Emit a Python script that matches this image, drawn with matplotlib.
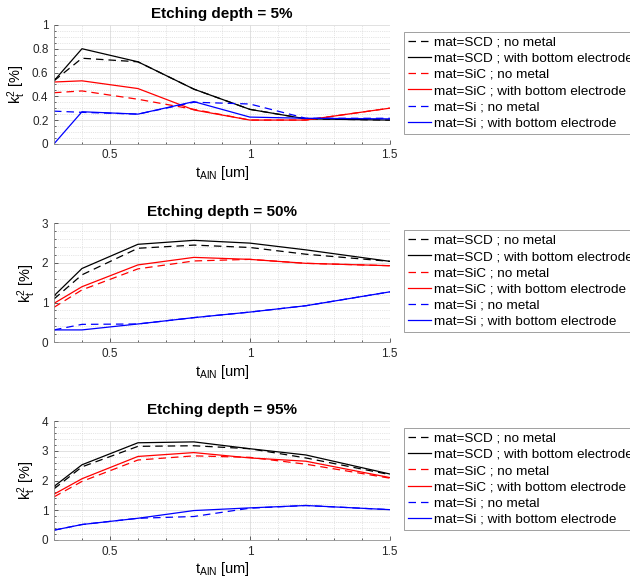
import numpy as np
import matplotlib
matplotlib.use("Agg")
import matplotlib.pyplot as plt
from matplotlib.ticker import MultipleLocator, FuncFormatter

plt.rcParams['font.family'] = ['Liberation Sans', 'DejaVu Sans']
plt.rcParams['mathtext.fontset'] = 'custom'
plt.rcParams['mathtext.rm'] = 'Liberation Sans'

# thickness of AlN [um]
t_aln = [0.3, 0.4, 0.6, 0.8, 1.0, 1.2, 1.5]

depths = ["5%", "50%", "95%"]

# k_t^2 [%] per etching depth: (no metal, with bottom electrode)
scd_nometal = [[0.53, 0.72, 0.69, 0.46, 0.29, 0.21, 0.20],
               [1.09, 1.70, 2.37, 2.45, 2.39, 2.22, 2.04],
               [1.72, 2.46, 3.15, 3.17, 3.07, 2.76, 2.20]]
scd_bottom = [[0.53, 0.80, 0.69, 0.46, 0.29, 0.21, 0.20],
              [1.17, 1.86, 2.47, 2.57, 2.50, 2.33, 2.04],
              [1.80, 2.53, 3.27, 3.30, 3.07, 2.86, 2.22]]
sic_nometal = [[0.43, 0.445, 0.375, 0.29, 0.20, 0.20, 0.30],
               [0.88, 1.32, 1.85, 2.05, 2.09, 1.99, 1.93],
               [1.45, 1.97, 2.69, 2.83, 2.78, 2.55, 2.08]]
sic_bottom = [[0.52, 0.53, 0.465, 0.285, 0.20, 0.20, 0.30],
              [0.98, 1.40, 1.95, 2.14, 2.09, 1.99, 1.93],
              [1.54, 2.06, 2.81, 2.94, 2.76, 2.65, 2.10]]
si_nometal = [[0.275, 0.265, 0.25, 0.35, 0.335, 0.215, 0.215],
              [0.31, 0.45, 0.46, 0.62, 0.76, 0.92, 1.27],
              [0.33, 0.52, 0.73, 0.79, 1.07, 1.16, 1.02]]
si_bottom = [[0.0, 0.27, 0.25, 0.355, 0.225, 0.215, 0.21],
             [0.31, 0.31, 0.46, 0.62, 0.76, 0.92, 1.27],
             [0.33, 0.52, 0.73, 0.99, 1.08, 1.16, 1.02]]

ylims = [1, 3, 4]
ymajor = [0.2, 1, 1]
yminor = [0.05, 0.2, 0.2]

series = [("SCD", "k", scd_nometal, scd_bottom),
          ("SiC", "r", sic_nometal, sic_bottom),
          ("Si", "b", si_nometal, si_bottom)]

fig = plt.figure(figsize=(6.3, 5.8), dpi=100)
bottoms = [0.752, 0.410, 0.069]
fmt = FuncFormatter(lambda v, p: "%g" % v)

for i in range(3):
    ax = fig.add_axes([0.0857, bottoms[i], 0.533, 0.205])
    for name, c, nm, be in series:
        ax.plot(t_aln, nm[i], '--', color=c, lw=0.9, dashes=(6, 4),
                label="mat=%s ; no metal" % name)
        ax.plot(t_aln, be[i], '-', color=c, lw=0.9,
                label="mat=%s ; with bottom electrode" % name)
    ax.set_xlim(0.3, 1.5)
    ax.set_ylim(0, ylims[i])
    ax.xaxis.set_major_locator(MultipleLocator(0.5))
    ax.xaxis.set_minor_locator(MultipleLocator(0.1))
    ax.yaxis.set_major_locator(MultipleLocator(ymajor[i]))
    ax.yaxis.set_minor_locator(MultipleLocator(yminor[i]))
    ax.xaxis.set_major_formatter(fmt)
    ax.yaxis.set_major_formatter(fmt)
    ax.grid(True, which='major', color='#dcdcdc', lw=0.6)
    ax.grid(True, which='minor', color='#cfcfcf', lw=0.5, ls=':')
    ax.set_axisbelow(True)
    ax.tick_params(which='both', direction='in', labelsize=8.5, colors='#262626', pad=4)
    ax.tick_params(which='major', length=3, width=0.5)
    ax.tick_params(which='minor', length=1.5, width=0.5)
    for s in ['top', 'right']:
        ax.spines[s].set_visible(False)
    for s in ['left', 'bottom']:
        ax.spines[s].set_color('#909090')
        ax.spines[s].set_linewidth(0.6)
    ax.set_title("Etching depth = " + depths[i], fontsize=11, fontweight='bold', pad=5)
    ax.set_xlabel(r"$\mathregular{t_{AlN}}$ [um]", fontsize=10.5, labelpad=2)
    ax.set_ylabel(r"$\mathregular{k_t^2}$ [%]", fontsize=10.5, labelpad=3)
    leg = ax.legend(loc='upper left', bbox_to_anchor=(1.042, 0.94), borderaxespad=0,
                    fontsize=9.7, fancybox=False, framealpha=1, edgecolor='#909090',
                    handlelength=1.7, handletextpad=0.2, labelspacing=0.28, borderpad=0.3)
    leg.get_frame().set_linewidth(0.6)

plt.savefig("out.png", dpi=100)
